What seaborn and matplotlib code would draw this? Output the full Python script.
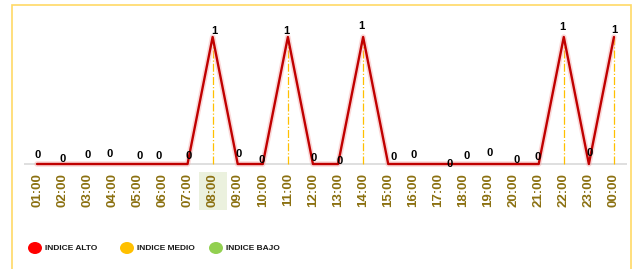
import matplotlib
matplotlib.use("Agg")
import matplotlib.pyplot as plt
from matplotlib.patches import Rectangle, Ellipse
import seaborn as sns
import pandas as pd

hours = ['01:00', '02:00', '03:00', '04:00', '05:00', '06:00', '07:00', '08:00',
         '09:00', '10:00', '11:00', '12:00', '13:00', '14:00', '15:00', '16:00',
         '17:00', '18:00', '19:00', '20:00', '21:00', '22:00', '23:00', '00:00']
values = [0, 0, 0, 0, 0, 0, 0, 1, 0, 0, 1, 0, 0, 1, 0, 0, 0, 0, 0, 0, 0, 1, 0, 1]
highlight_hour = '08:00'
legend_names = ['INDICE ALTO', 'INDICE MEDIO', 'INDICE BAJO']
legend_colors = ['#FF0000', '#FFC000', '#92D050']

# little nudges of the data labels (pixels), as in the original
label_dx = [1, 0, 0, -3, 2, -4, 1, 2, 1, -1, -2, 1, 2, -2, 5, 0, 11, 3, 1, 3, -1, -1, 1, 0]
label_dy = [8, 4, 8, 9, 7, 7, 7, 5, 9, 3, 5, 5, 2, 10, 6, 8, -1, 7, 10, 3, 6, 9, 10, 6]

df = pd.DataFrame({'pos': range(len(hours)), 'hour': hours, 'value': values})

sns.set_style('white')
plt.rcParams['font.family'] = ['Liberation Sans', 'DejaVu Sans']

W, H = 639, 269
fig = plt.figure(figsize=(W / 100, H / 100), dpi=100)
fig.patch.set_facecolor('white')

# outer frame
fig.add_artist(Rectangle((12 / W, -0.01), 619 / W, (H - 5) / H + 0.01,
                         transform=fig.transFigure, fill=False,
                         edgecolor='#FFD966', lw=1.2))

ax = fig.add_axes([24 / W, (H - 166) / H, 603 / W, 146 / H])
ax.set_xlim(-0.52, len(hours) - 1 + 0.52)
ax.set_ylim(-2 / 127, 1 + 17 / 127)

ax.axhline(0, color='#D9D9D9', lw=1.2, zorder=1)

peaks = df[df['value'] == 1]
ax.vlines(peaks['pos'], 0, peaks['value'], colors='#FFC000', lw=0.9,
          linestyles='dashdot', zorder=2)

# soft glow under the line
sns.lineplot(data=df, x='pos', y='value', ax=ax, color='#F4A0A0', lw=4,
             alpha=0.4, zorder=3, clip_on=False)
sns.lineplot(data=df, x='pos', y='value', ax=ax, color='#C00000', lw=1.7,
             zorder=4, clip_on=False)

for i, row in df.iterrows():
    ax.annotate(str(row['value']), (row['pos'], row['value']),
                xytext=(label_dx[i] * 0.72, label_dy[i] * 0.72 + 1),
                textcoords='offset points', ha='center', va='center',
                fontsize=8, fontweight='bold', color='black', zorder=5)

ax.set_xticks(df['pos'])
ax.set_xticklabels(df['hour'], rotation=90, fontsize=9.5, fontweight='bold',
                   color='#8B7010', va='top')
ax.tick_params(axis='x', length=0, pad=5)
ax.set_yticks([])
ax.set_xlabel('')
ax.set_ylabel('')
for s in ax.spines.values():
    s.set_visible(False)

# light green box behind the highlighted hour
hx = hours.index(highlight_hour)
ax.add_patch(Rectangle((hx - 0.56, -0.30), 1.12, 0.26,
                       transform=ax.get_xaxis_transform(), facecolor='#EBF1DE',
                       edgecolor='none', clip_on=False, zorder=0))

# legend: coloured dots with bold captions
for name, color, cx in zip(legend_names, legend_colors, [35, 127, 216]):
    fig.add_artist(Ellipse((cx / W, 21 / H), 14 / W, 12 / H,
                           transform=fig.transFigure, facecolor=color,
                           edgecolor='none'))
    fig.text((cx + 10) / W, 21 / H, name, ha='left', va='center',
             fontsize=6, fontweight='bold', color='#1A1A1A')

fig.savefig('out.png', dpi=100)
